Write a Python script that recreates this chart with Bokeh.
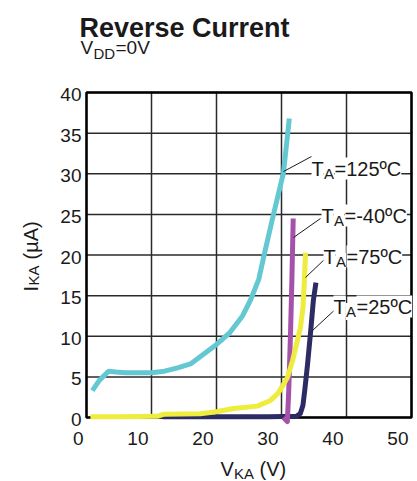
from math import pi
from bokeh.plotting import figure
from bokeh.models import Range1d, Label, LabelSet, ColumnDataSource
from bokeh.core.properties import value
from bokeh.embed import file_html
from bokeh.resources import INLINE

# ---------------- data ----------------
x_ticks = [0, 10, 20, 30, 40, 50]
x_tick_labels = ["0", "10", "20", "30", "40", "50"]
y_ticks = [0, 5, 10, 15, 20, 25, 30, 35, 40]
y_tick_labels = ["0", "5", "10", "15", "20", "25", "30", "35", "40"]

# TA = 125 C
v_125 = [0.9, 2.0, 3.4, 4.5, 6, 8, 10, 12, 14, 16, 18, 20, 22, 24, 25.2, 26.5, 27.3, 28.8, 30.3, 31.2]
i_125 = [3.3, 4.6, 5.7, 5.6, 5.5, 5.5, 5.5, 5.7, 6.1, 6.6, 7.8, 9.0, 10.4, 12.5, 14.4, 17.0, 19.9, 25.1, 30.1, 36.8]

# TA = -40 C
v_m40 = [30.3, 30.9, 31.1, 31.4, 31.6, 31.8]
i_m40 = [0.0, -0.5, 3.0, 10.7, 17.0, 24.5]

# TA = 75 C
v_75 = [0.6, 5, 10.9, 11.9, 17.5, 20, 22.6, 26.3, 28.3, 29.5, 30.9, 31.7, 32.3, 32.9, 33.3, 33.5, 33.7]
i_75 = [0.1, 0.1, 0.15, 0.4, 0.45, 0.7, 1.1, 1.4, 2.1, 3.0, 4.9, 7.0, 9.0, 11.0, 13.5, 16.5, 20.3]

# TA = 25 C
v_25 = [11.7, 20, 28, 32.3, 32.9, 33.3, 33.6, 34.0, 34.5, 34.9, 35.3]
i_25 = [0.1, 0.1, 0.1, 0.15, 0.5, 1.5, 3.5, 6.5, 10.7, 14.4, 16.6]

series_labels = ["125ºC", "-40ºC", "75ºC", "25ºC"]

# ---------------- layout: plot box inside a full-canvas frame ----------------
FL, FT, FW, FH = 86, 92, 325, 325          # plot box in picture pixels
X0, X1, Y0, Y1 = 0, 50, 0, 40               # axis extents
W, H = 417, 481


def dx(px):
    return X0 + (px - FL) * (X1 - X0) / FW


def dy(py):
    return Y0 + (FT + FH - py) * (Y1 - Y0) / FH


FONT = "Liberation Sans"
TXT = "#1a1a1a"
GRID = "#2a2a2a"

p = figure(frame_width=W, frame_height=H,
           x_range=Range1d(dx(0), dx(W)), y_range=Range1d(dy(H), dy(0)),
           output_backend="svg", toolbar_location=None, min_border=0)
p.background_fill_color = "white"
p.border_fill_color = "white"
p.outline_line_color = None
p.axis.visible = False
p.grid.visible = False

# grid lines (from the tick arrays)
p.segment(x0=x_ticks, y0=[Y0] * len(x_ticks), x1=x_ticks, y1=[Y1] * len(x_ticks),
          line_color=GRID, line_width=1.5)
p.segment(x0=[X0] * len(y_ticks), y0=y_ticks, x1=[X1] * len(y_ticks), y1=y_ticks,
          line_color=GRID, line_width=1.5)
# plot box
p.quad(left=[X0], right=[X1], bottom=[Y0], top=[Y1], fill_color=None,
       line_color="black", line_width=2.5)

# curves
p.line(v_25, i_25, line_color="#2c2b64", line_width=5, line_join="round")
p.line(v_m40, i_m40, line_color="#a552ab", line_width=5, line_join="round")
p.line(v_75, i_75, line_color="#eeec3c", line_width=5, line_join="round")
p.line(v_125, i_125, line_color="#64c8d2", line_width=5, line_join="round")

# tick labels
px_per_x = FW / (X1 - X0)
px_per_y = FH / (Y1 - Y0)
xt_src = ColumnDataSource(dict(x=[t - 3 / px_per_x for t in x_ticks],
                               y=[dy(444)] * len(x_ticks), text=x_tick_labels))
p.add_layout(LabelSet(x="x", y="y", text="text", source=xt_src,
                      text_align="right", text_baseline="alphabetic",
                      text_font=value(FONT), text_font_size="19px", text_color=TXT))
yt_src = ColumnDataSource(dict(x=[dx(81)] * len(y_ticks),
                               y=[t - 2 / px_per_y for t in y_ticks], text=y_tick_labels))
p.add_layout(LabelSet(x="x", y="y", text="text", source=yt_src,
                      text_align="right", text_baseline="middle",
                      text_font=value(FONT), text_font_size="19px", text_color=TXT))


def lab(px, py, text, size, bold=False, angle=0.0, bg=None):
    kw = {}
    if bg:
        kw["background_fill_color"] = bg
    p.add_layout(Label(x=dx(px), y=dy(py), text=text, angle=angle,
                       text_align="left", text_baseline="alphabetic",
                       text_font=FONT, text_font_size=f"{size}px",
                       text_font_style="bold" if bold else "normal",
                       text_color=TXT, **kw))


# title
lab(79, 27, "Reverse Current", 27, bold=True)
lab(80, 47, "V", 19)
lab(93, 53, "DD", 15)
lab(115, 47, "=0V", 19)

# axis titles
lab(220, 468, "V", 20)
lab(233.5, 473, "KA", 15)
lab(259, 468, "(V)", 20)
lab(30.5, 291, "I", 20, angle=pi / 2)
lab(33, 285, "KA", 15, angle=pi / 2)
lab(30.5, 259, "(µA)", 20, angle=pi / 2)

# leader lines
leaders = [((283, 171), (311, 156)), ((293, 237), (320, 218)),
           ((305, 277), (326, 257)), ((312, 330), (339, 305))]
p.segment(x0=[dx(a[0]) for a, b in leaders], y0=[dy(a[1]) for a, b in leaders],
          x1=[dx(b[0]) for a, b in leaders], y1=[dy(b[1]) for a, b in leaders],
          line_color="#1a1a1a", line_width=1)

# curve labels
label_pos = [(311, 168), (321, 215), (323, 256), (333, 306)]
for (tx, ty), s in zip(label_pos, series_labels):
    lab(tx, ty, "T", 20, bg="white")
    lab(tx + 12.5, ty + 5, "A", 15, bg="white")
    lab(tx + 23, ty, "=" + s, 20, bg="white")

open("out.html", "w").write(file_html(p, INLINE))
